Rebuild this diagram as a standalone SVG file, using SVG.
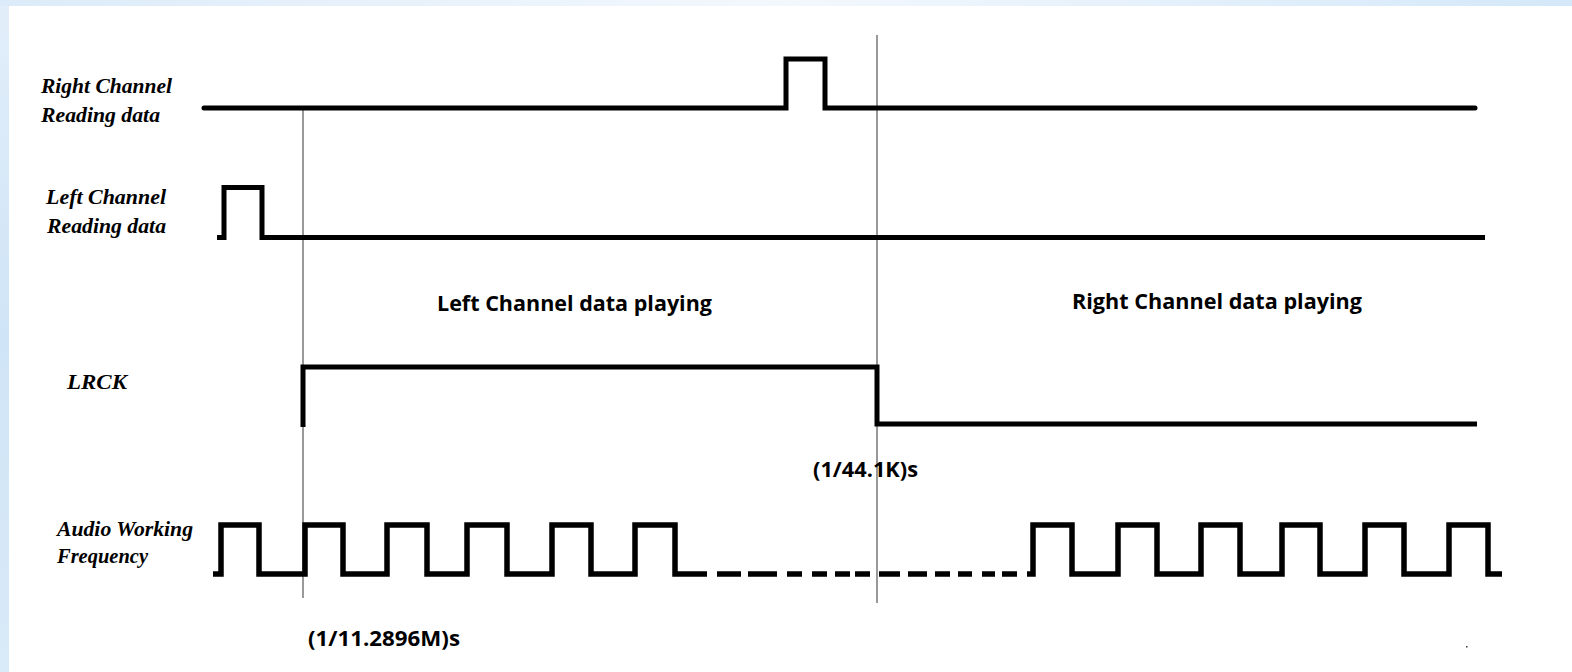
<svg xmlns="http://www.w3.org/2000/svg" width="1572" height="672" viewBox="0 0 1572 672">
  <defs>
    <linearGradient id="topband" x1="0" y1="0" x2="1" y2="0">
      <stop offset="0" stop-color="#dcebf9"/>
      <stop offset="0.5" stop-color="#f3f8fd"/>
      <stop offset="1" stop-color="#d4e8f9"/>
    </linearGradient>
    <linearGradient id="leftband" x1="0" y1="0" x2="0" y2="1">
      <stop offset="0" stop-color="#e2eefa"/>
      <stop offset="0.5" stop-color="#cfe4f6"/>
      <stop offset="1" stop-color="#d9eaf8"/>
    </linearGradient>
    <style>
      .sig { fill: none; stroke: #000; stroke-width: 5; stroke-linejoin: miter; stroke-linecap: butt; }
      .clk { fill: none; stroke: #000; stroke-width: 5.5; stroke-linejoin: miter; stroke-linecap: butt; }
      .guide { fill: none; stroke: #555; stroke-width: 1.2; }
      .lbl { font-family: "Liberation Serif", "DejaVu Serif", serif; font-style: italic; font-weight: bold; font-size: 20px; fill: #000; }
      .txt { font-family: "Open Sans", "Liberation Sans", sans-serif; font-weight: bold; font-size: 21px; fill: #000; }
    </style>
  </defs>

  <rect x="0" y="0" width="1572" height="672" fill="url(#leftband)"/>
  <rect x="0" y="0" width="1572" height="6" fill="url(#topband)"/>
  <rect x="9" y="6" width="1563" height="666" fill="#ffffff"/>

  <g id="connectors">
    <line class="guide" x1="303" y1="108" x2="303" y2="598"/>
    <line class="guide" x1="877" y1="35" x2="877" y2="603"/>
  </g>

  <g id="right-channel-reading">
    <text class="lbl" x="41" y="93" textLength="131" lengthAdjust="spacingAndGlyphs">Right Channel</text>
    <text class="lbl" x="41" y="122" textLength="119" lengthAdjust="spacingAndGlyphs">Reading data</text>
    <path class="sig" style="stroke-linecap:round" d="M204,108 H786 V59 H825 V108 H1475"/>
  </g>

  <g id="left-channel-reading">
    <text class="lbl" x="46" y="204" textLength="120" lengthAdjust="spacingAndGlyphs">Left Channel</text>
    <text class="lbl" x="47" y="233" textLength="119" lengthAdjust="spacingAndGlyphs">Reading data</text>
    <path class="sig" d="M217,237.5 H224 V187.5 H262 V237.5 H1485"/>
  </g>

  <g id="playing-labels">
    <text class="txt" x="437" y="311" textLength="275" lengthAdjust="spacingAndGlyphs">Left Channel data playing</text>
    <text class="txt" x="1072" y="309" textLength="290" lengthAdjust="spacingAndGlyphs">Right Channel data playing</text>
  </g>

  <g id="lrck">
    <text class="lbl" x="67" y="389" textLength="60" lengthAdjust="spacingAndGlyphs">LRCK</text>
    <path class="sig" d="M303,427 V367 H877 V424 H1477"/>
    <text class="txt" x="813" y="477" textLength="105" lengthAdjust="spacingAndGlyphs">(1/44.1K)s</text>
  </g>

  <g id="audio-working-frequency">
    <text class="lbl" x="57" y="536" textLength="136" lengthAdjust="spacingAndGlyphs">Audio Working</text>
    <text class="lbl" x="57" y="563" textLength="91" lengthAdjust="spacingAndGlyphs">Frequency</text>
    <path class="clk" d="M213,574 H221 V525 H259 V574 H305 V525 H343 V574 H387 V525 H427 V574 H467 V525 H507 V574 H552 V525 H591 V574 H635 V525 H675 V574 H707"/>
    <path class="clk" d="M717,574 H741 M748,574 H777 M787,574 H802 M812,574 H827 M835,574 H850 M855,574 H870 M879,574 H900 M908,574 H927 M935,574 H950 M958,574 H972 M982,574 H995 M1002,574 H1017"/>
    <path class="clk" d="M1027,574 H1033 V525 H1072 V574 H1118 V525 H1157 V574 H1201 V525 H1240 V574 H1282 V525 H1320 V574 H1365 V525 H1404 V574 H1449 V525 H1488 V574 H1502"/>
    <text class="txt" x="308" y="646" textLength="152" lengthAdjust="spacingAndGlyphs">(1/11.2896M)s</text>
  </g>

  <rect x="1466" y="646" width="1.5" height="1.5" fill="#333"/>
</svg>
